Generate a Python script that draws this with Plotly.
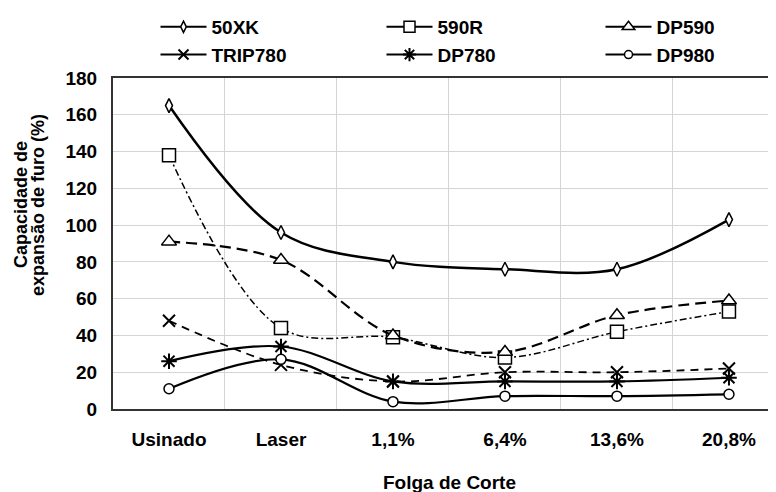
import plotly.graph_objects as go

categories = ["Usinado", "Laser", "1,1%", "6,4%", "13,6%", "20,8%"]
s_50XK = [165, 96, 80, 76, 76, 103]
s_590R = [138, 44, 39, 28, 42, 53]
s_DP590 = [91, 81, 40, 31, 51, 59]
s_TRIP780 = [48, 24, 15, 20, 20, 22]
s_DP780 = [26, 34, 15, 15, 15, 17]
s_DP980 = [11, 27, 4, 7, 7, 8]
y_ticks = [0, 20, 40, 60, 80, 100, 120, 140, 160, 180]

FONT = "Liberation Sans, Arial, sans-serif"

# page body has an 8px margin: figure is 768x484 drawn at (8, 8)
W, H = 768, 484
L, T, B = 105, 70, 83
PW, PH = W - L, H - T - B

def px_x(x):  # figure px -> paper x
    return (x - L) / PW

def px_y(y):  # figure px -> paper y
    return (H - B - y) / PH

series = [
    ("50XK", s_50XK, "legend", dict(width=2.5, dash="solid"), dict(symbol="diamond-tall", size=10, color="white", line=dict(color="black", width=1.5))),
    ("590R", s_590R, "legend2", dict(width=1.5, dash="7px,3px,2px,3px"), dict(symbol="square", size=13, color="white", line=dict(color="black", width=1.5))),
    ("DP590", s_DP590, "legend3", dict(width=2.2, dash="11px,6px"), dict(symbol="triangle-up", size=13, color="white", line=dict(color="black", width=1.5))),
    ("TRIP780", s_TRIP780, "legend", dict(width=1.8, dash="8px,6px"), dict(symbol="x-thin-open", size=12, color="black", line=dict(color="black", width=2))),
    ("DP780", s_DP780, "legend2", dict(width=2.2, dash="solid"), dict(symbol="asterisk-open", size=13, color="black", line=dict(color="black", width=2))),
    ("DP980", s_DP980, "legend3", dict(width=2.2, dash="solid"), dict(symbol="circle", size=10, color="white", line=dict(color="black", width=1.5))),
]

fig = go.Figure()
for name, vals, lg, ln, mk in series:
    fig.add_trace(go.Scatter(
        x=categories, y=vals, name=name, mode="lines+markers", showlegend=False,
        line=dict(color="black", shape="spline", smoothing=1.0, **ln),
        marker=mk,
    ))
# legend entries (the reference legend shows solid lines for every series)
for name, vals, lg, ln, mk in series:
    fig.add_trace(go.Scatter(
        x=[None], y=[None], name=name, mode="lines+markers", legend=lg,
        line=dict(color="black", width=2, dash="solid"),
        marker=dict(mk, size=max(mk["size"] - 2, 8)),
    ))

def legend_at(xpx):
    return dict(
        orientation="v", x=px_x(xpx), xanchor="left", y=px_y(0), yanchor="top",
        font=dict(family=FONT, size=19, color="black", weight="bold"),
        itemwidth=46, bgcolor="rgba(0,0,0,0)", traceorder="normal",
    )

fig.update_layout(
    width=W, height=H,
    margin=dict(l=L, r=0, t=T, b=B),
    paper_bgcolor="white", plot_bgcolor="white",
    font=dict(family=FONT, size=19, color="black", weight="bold"),
    showlegend=True,
    legend=legend_at(147.5),
    legend2=legend_at(373.5),
    legend3=legend_at(592.5),
    xaxis=dict(
        type="category", range=[-0.5, 5.42],
        showgrid=True, gridcolor="#d4d4d4", gridwidth=1, tickson="boundaries",
        showline=True, linecolor="#333333", linewidth=2, mirror=True,
        ticks="", ticklabelstandoff=12,
        tickfont=dict(family=FONT, size=19, color="black", weight="bold"),
    ),
    yaxis=dict(
        range=[0, 180], tickvals=y_ticks,
        showgrid=True, gridcolor="#d4d4d4", gridwidth=1, zeroline=False,
        showline=True, linecolor="#333333", linewidth=2,
        ticks="", ticklabelstandoff=10,
        tickfont=dict(family=FONT, size=19, color="black", weight="bold"),
    ),
    annotations=[
        dict(text="Capacidade de", textangle=-90,
             xref="paper", yref="paper", x=px_x(13), y=px_y(197),
             xanchor="center", yanchor="middle", showarrow=False,
             font=dict(family=FONT, size=18, color="black", weight="bold")),
        dict(text="expansão de furo (%)", textangle=-90,
             xref="paper", yref="paper", x=px_x(30), y=px_y(197),
             xanchor="center", yanchor="middle", showarrow=False,
             font=dict(family=FONT, size=18, color="black", weight="bold")),
        dict(text="Folga de Corte", xref="paper", yref="paper",
             x=px_x(441), y=px_y(474),
             xanchor="center", yanchor="middle", showarrow=False,
             font=dict(family=FONT, size=19, color="black", weight="bold")),
    ],
)

fig.write_html("out.html")
